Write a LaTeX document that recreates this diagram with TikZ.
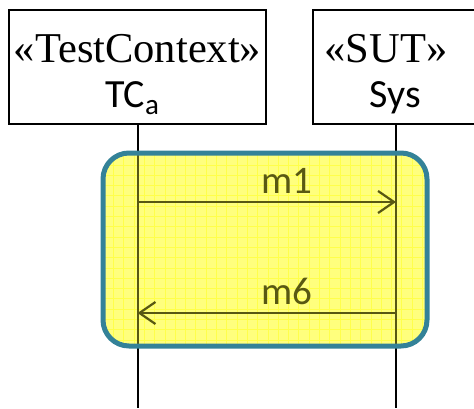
\documentclass[tikz,border=0pt]{standalone}
\usepackage{fontspec}
\setmainfont{Liberation Serif}
\newfontfamily\calib{Carlito}
\usetikzlibrary{arrows.meta}
\definecolor{frameteal}{RGB}{52,130,152}
\definecolor{hifill}{RGB}{255,255,125}
\definecolor{higrid}{RGB}{255,255,40}
\definecolor{olive}{RGB}{88,88,18}
\tikzset{
  lifebox/.style={draw=black, line width=2pt},
  lifeline/.style={line width=2pt},
  msg/.style={draw=olive, line width=2.2pt, -{Straight Barb[length=16pt,width=22pt,line width=2.2pt]}},
  stereo/.style={font=\fontsize{42.5}{48}\selectfont, anchor=base, inner sep=0pt},
  objname/.style={font=\calib\fontsize{40}{46}\selectfont, anchor=base, inner sep=0pt},
  msglabel/.style={font=\calib\fontsize{39}{44}\selectfont, text=olive, anchor=base, inner sep=0pt},
  fragment/.style={rounded corners=26pt},
}
\begin{document}
\begin{tikzpicture}[x=1pt,y=-1pt]
\useasboundingbox (0,0) rectangle (474,408);
\begin{scope}
\clip (0,0) rectangle (474,408);
% lifeline heads
\draw[lifebox] (9,10) rectangle (266,124);
\draw[lifebox] (313,10) rectangle (490,124);
\node[stereo] (tcst) at (137.5,62) {«TestContext»};
\node[objname] (tcnm) at (132,107) {TC\raisebox{-7pt}{\fontsize{29}{31}\selectfont a}};
\node[stereo] (sutst) at (386,62) {«SUT»};
\node[objname] (sysnm) at (395,107) {Sys};
% lifelines
\coordinate (tctop) at (137.5,124);
\coordinate (tcbot) at (137.5,408);
\coordinate (systop) at (396,124);
\coordinate (sysbot) at (396,408);
\draw[lifeline, black] (tctop) -- (tcbot);
\draw[lifeline, black] (systop) -- (sysbot);
% highlighted fragment: tinted background with a fine grid
\fill[hifill, fragment] (103,153) rectangle (427,346);
\begin{scope}
\clip[fragment] (103,153) rectangle (427,346);
\draw[higrid, opacity=0.6, line width=0.6pt, step=10.3pt] (100,150) grid (430,350);
\draw[lifeline, olive] (tctop) -- (tcbot);
\draw[lifeline, olive] (systop) -- (sysbot);
\end{scope}
% messages
\coordinate (m1s) at (137.5,202);
\coordinate (m1e) at (396,202);
\coordinate (m6s) at (396,313);
\coordinate (m6e) at (137.5,313);
\draw[msg] (m1s) -- (m1e);
\draw[msg] (m6s) -- (m6e);
\node[msglabel] (m1l) at (287,193) {m1};
\node[msglabel] (m6l) at (287,304) {m6};
\draw[frameteal, line width=5pt, fragment] (103,153) rectangle (427,346);
\end{scope}
\end{tikzpicture}
\end{document}
